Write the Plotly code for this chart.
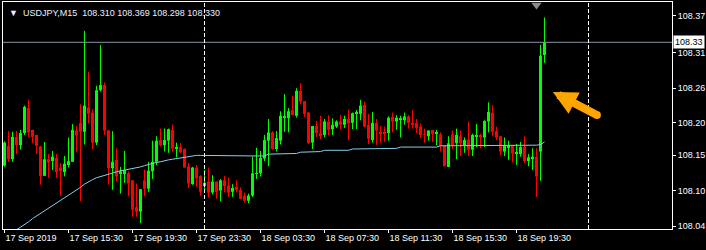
import numpy as np
import pandas as pd
import plotly.graph_objects as go

# ---------------- data (USDJPY, M15) ----------------
open_ = [108.137, 108.168, 108.147, 108.182, 108.169, 108.188, 108.227, 108.193, 108.185, 108.167,
         108.121, 108.147, 108.144, 108.149, 108.134, 108.127, 108.138, 108.143, 108.192, 108.204,
         108.190, 108.228, 108.220, 108.173, 108.255, 108.263, 108.192, 108.133, 108.146, 108.125,
         108.124, 108.125, 108.114, 108.072, 108.065, 108.114, 108.101, 108.128, 108.143, 108.177,
         108.169, 108.176, 108.193, 108.164, 108.166, 108.163, 108.136, 108.108, 108.134, 108.121,
         108.105, 108.112, 108.095, 108.112, 108.098, 108.114, 108.106, 108.096, 108.104, 108.099,
         108.090, 108.082, 108.090, 108.124, 108.125, 108.148, 108.176, 108.189, 108.163, 108.176,
         108.212, 108.211, 108.224, 108.215, 108.254, 108.238, 108.220, 108.173, 108.199, 108.188,
         108.185, 108.206, 108.194, 108.198, 108.206, 108.201, 108.210, 108.204, 108.219, 108.218,
         108.232, 108.201, 108.177, 108.204, 108.190, 108.190, 108.188, 108.213, 108.206, 108.209,
         108.208, 108.214, 108.204, 108.204, 108.198, 108.186, 108.183, 108.193, 108.188, 108.186,
         108.168, 108.135, 108.186, 108.172, 108.183, 108.169, 108.178, 108.162, 108.183, 108.185,
         108.181, 108.206, 108.220, 108.191, 108.183, 108.159, 108.166, 108.169, 108.156, 108.155,
         108.166, 108.144, 108.147, 108.151, 108.159, 108.310]
high = [108.175, 108.191, 108.190, 108.191, 108.193, 108.231, 108.240, 108.193, 108.185, 108.168,
        108.174, 108.155, 108.160, 108.155, 108.141, 108.152, 108.181, 108.202, 108.199, 108.233,
        108.348, 108.284, 108.225, 108.262, 108.326, 108.267, 108.193, 108.191, 108.164, 108.135,
        108.160, 108.128, 108.114, 108.109, 108.100, 108.131, 108.143, 108.176, 108.183, 108.195,
        108.195, 108.195, 108.201, 108.173, 108.172, 108.164, 108.141, 108.135, 108.138, 108.122,
        108.130, 108.134, 108.122, 108.112, 108.116, 108.121, 108.118, 108.108, 108.114, 108.103,
        108.095, 108.093, 108.151, 108.165, 108.160, 108.185, 108.210, 108.191, 108.191, 108.222,
        108.249, 108.227, 108.246, 108.258, 108.266, 108.238, 108.221, 108.199, 108.207, 108.215,
        108.210, 108.216, 108.211, 108.208, 108.216, 108.215, 108.225, 108.220, 108.224, 108.240,
        108.237, 108.218, 108.221, 108.210, 108.199, 108.198, 108.214, 108.220, 108.216, 108.215,
        108.220, 108.216, 108.224, 108.210, 108.203, 108.195, 108.192, 108.193, 108.193, 108.189,
        108.169, 108.183, 108.192, 108.195, 108.192, 108.181, 108.206, 108.187, 108.202, 108.187,
        108.208, 108.236, 108.232, 108.198, 108.183, 108.181, 108.176, 108.169, 108.171, 108.174,
        108.183, 108.155, 108.164, 108.164, 108.326, 108.369]
low = [108.135, 108.143, 108.143, 108.155, 108.162, 108.185, 108.182, 108.172, 108.155, 108.107,
       108.121, 108.118, 108.130, 108.118, 108.090, 108.120, 108.134, 108.143, 108.159, 108.081,
       108.170, 108.203, 108.163, 108.169, 108.253, 108.185, 108.107, 108.099, 108.112, 108.093,
       108.110, 108.089, 108.057, 108.057, 108.047, 108.089, 108.096, 108.116, 108.138, 108.167,
       108.159, 108.157, 108.159, 108.150, 108.156, 108.134, 108.102, 108.107, 108.104, 108.090,
       108.099, 108.087, 108.092, 108.085, 108.081, 108.095, 108.088, 108.088, 108.095, 108.085,
       108.079, 108.078, 108.088, 108.116, 108.120, 108.144, 108.136, 108.162, 108.159, 108.170,
       108.190, 108.189, 108.216, 108.212, 108.233, 108.213, 108.171, 108.163, 108.182, 108.178,
       108.181, 108.184, 108.185, 108.196, 108.194, 108.196, 108.177, 108.194, 108.194, 108.208,
       108.197, 108.171, 108.173, 108.169, 108.173, 108.174, 108.176, 108.189, 108.193, 108.181,
       108.201, 108.195, 108.195, 108.188, 108.180, 108.173, 108.176, 108.174, 108.169, 108.159,
       108.136, 108.135, 108.163, 108.147, 108.152, 108.157, 108.152, 108.152, 108.166, 108.164,
       108.166, 108.189, 108.183, 108.177, 108.153, 108.152, 108.146, 108.142, 108.138, 108.151,
       108.141, 108.136, 108.130, 108.088, 108.113, 108.298]
close = [108.173, 108.147, 108.182, 108.169, 108.188, 108.229, 108.189, 108.182, 108.168, 108.121,
         108.147, 108.142, 108.151, 108.127, 108.128, 108.140, 108.144, 108.193, 108.184, 108.190,
         108.231, 108.218, 108.173, 108.255, 108.263, 108.192, 108.133, 108.143, 108.120, 108.128,
         108.130, 108.109, 108.068, 108.065, 108.100, 108.101, 108.129, 108.143, 108.176, 108.169,
         108.177, 108.194, 108.164, 108.165, 108.158, 108.134, 108.109, 108.134, 108.117, 108.096,
         108.110, 108.095, 108.112, 108.096, 108.114, 108.105, 108.095, 108.102, 108.099, 108.085,
         108.082, 108.090, 108.125, 108.125, 108.149, 108.177, 108.189, 108.163, 108.180, 108.215,
         108.213, 108.222, 108.216, 108.254, 108.237, 108.218, 108.172, 108.199, 108.188, 108.183,
         108.206, 108.193, 108.201, 108.206, 108.201, 108.210, 108.203, 108.219, 108.220, 108.231,
         108.198, 108.179, 108.204, 108.192, 108.188, 108.188, 108.212, 108.206, 108.212, 108.210,
         108.214, 108.204, 108.202, 108.196, 108.185, 108.185, 108.192, 108.186, 108.189, 108.168,
         108.136, 108.172, 108.169, 108.185, 108.172, 108.177, 108.162, 108.185, 108.184, 108.181,
         108.207, 108.221, 108.190, 108.181, 108.159, 108.169, 108.168, 108.156, 108.157, 108.166,
         108.144, 108.150, 108.151, 108.120, 108.309, 108.330]
moving_avg = [108.024, 108.028, 108.033, 108.037, 108.041, 108.045, 108.049, 108.054, 108.058, 108.062,
              108.066, 108.070, 108.074, 108.079, 108.083, 108.087, 108.091, 108.095, 108.099, 108.103,
              108.108, 108.112, 108.115, 108.118, 108.120, 108.122, 108.124, 108.126, 108.128, 108.129,
              108.130, 108.131, 108.133, 108.134, 108.135, 108.137, 108.139, 108.141, 108.142, 108.143,
              108.145, 108.146, 108.147, 108.148, 108.150, 108.150, 108.152, 108.152, 108.153, 108.153,
              108.153, 108.153, 108.152, 108.152, 108.152, 108.152, 108.152, 108.152, 108.152, 108.152,
              108.152, 108.152, 108.152, 108.152, 108.152, 108.152, 108.155, 108.155, 108.155, 108.156,
              108.156, 108.156, 108.155, 108.156, 108.158, 108.158, 108.159, 108.159, 108.159, 108.159,
              108.161, 108.161, 108.161, 108.161, 108.161, 108.161, 108.161, 108.163, 108.163, 108.163,
              108.163, 108.163, 108.163, 108.163, 108.163, 108.163, 108.163, 108.164, 108.164, 108.166,
              108.166, 108.166, 108.166, 108.166, 108.166, 108.166, 108.166, 108.166, 108.166, 108.168,
              108.168, 108.168, 108.168, 108.168, 108.168, 108.169, 108.169, 108.169, 108.169, 108.169,
              108.169, 108.169, 108.169, 108.168, 108.168, 108.168, 108.168, 108.168, 108.168, 108.168,
              108.168, 108.169, 108.169, 108.169, 108.170, 108.174]

first_bar_time = "2019-09-17 11:30"
tick_times = ["2019-09-17 11:30", "2019-09-17 15:30", "2019-09-17 19:30", "2019-09-17 23:30",
              "2019-09-18 03:30", "2019-09-18 07:30", "2019-09-18 11:30", "2019-09-18 15:30",
              "2019-09-18 19:30"]
tick_labels = ["17 Sep 2019", "17 Sep 15:30", "17 Sep 19:30", "17 Sep 23:30", "18 Sep 03:30",
               "18 Sep 07:30", "18 Sep 11:30", "18 Sep 15:30", "18 Sep 19:30"]
day_separators = ["2019-09-18 00:00", "2019-09-19 00:00"]
price_tick_vals = [108.3716, 108.3140, 108.2580, 108.2045, 108.1532, 108.0978, 108.0425]
price_tick_labels = ["108.37", "108.31", "108.26", "108.20", "108.15", "108.10", "108.04"]
header = "USDJPY,M15  108.310 108.369 108.298 108.330"
symbol_label = "108.33"

# ---------------- build ----------------
step = pd.Timedelta("15min")
t0 = pd.Timestamp(first_bar_time)
n = len(close)
idx = np.arange(n)
o = np.array(open_); c = np.array(close); h = np.array(high); l = np.array(low)

def bar_index(t):
    return (pd.Timestamp(t) - t0) / step

tickvals = [bar_index(t) for t in tick_times]
sep_idx = [bar_index(t) for t in day_separators]

UP, DN = "#00FF00", "#FF0000"
up = c >= o
min_body = 0.0012
base = np.minimum(o, c)
height = np.maximum(np.abs(c - o), min_body)
colors = [UP if u else DN for u in up]

fig = go.Figure()
fig.add_trace(go.Bar(x=idx, y=height, base=base, width=0.75,
                     marker=dict(color=colors, line=dict(width=0)),
                     hoverinfo="skip", showlegend=False))
for mask, col in ((up, UP), (~up, DN)):
    wx, wy = [], []
    for i in idx[mask]:
        wx += [i, i, None]
        wy += [h[i], l[i], None]
    fig.add_trace(go.Scatter(x=wx, y=wy, mode="lines", line=dict(color=col, width=1),
                             hoverinfo="skip", showlegend=False))
fig.add_trace(go.Scatter(x=idx, y=moving_avg, mode="lines",
                         line=dict(color="#87CEEB", width=1), hoverinfo="skip", showlegend=False))

# layout geometry: plot box from px 3..672 (x) and 2..229 (y), 4 px per bar
W, H = 706, 250
ml, mr, mt, mb = 3, 34, 2, 21
px_per_bar = 4.0
x0 = -0.375
x1 = x0 + (W - ml - mr) / px_per_bar
y_top, y_bot = 108.3931, 108.0378

font = "Liberation Sans, Arial, sans-serif"

# current price line
fig.add_shape(type="line", xref="paper", x0=0, x1=1, yref="y", y0=c[-1], y1=c[-1],
              line=dict(color="#8795A5", width=1))
# day separators
for s in sep_idx:
    fig.add_shape(type="line", xref="x", x0=s, x1=s, yref="paper", y0=0, y1=1,
                  line=dict(color="white", width=1, dash="4px,2px"))
# shift marker
fig.add_trace(go.Scatter(x=[n - 3], y=[y_top - 0.0045], mode="markers",
                         marker=dict(symbol="triangle-down", size=9, color="#8A8A8A"),
                         cliponaxis=False, hoverinfo="skip", showlegend=False))

# orange arrow (tip position and tail offset, in bars / price / pixels)
arrow_tip = (137.1, 108.2522)
arrow_tail_offset = (44, 23)
ORANGE = "#FFA500"
fig.add_trace(go.Scatter(x=[arrow_tip[0] + arrow_tail_offset[0] / px_per_bar],
                         y=[arrow_tip[1] - arrow_tail_offset[1] * (y_top - y_bot) / (H - mt - mb)],
                         mode="markers", marker=dict(symbol="circle", size=8, color=ORANGE),
                         cliponaxis=False, hoverinfo="skip", showlegend=False))

annotations = [
    dict(xref="paper", yref="paper", x=0, y=1, xanchor="left", yanchor="top",
         xshift=4, yshift=-4, showarrow=False, text="▼  " + header,
         font=dict(family=font, size=9, color="#E8F0FF")),
    dict(xref="paper", yref="y", x=1, y=c[-1], xanchor="left", yanchor="middle",
         xshift=1, showarrow=False, text=symbol_label, bgcolor="white", borderpad=1,
         font=dict(family=font, size=9, color="black")),
    dict(xref="x", yref="y", x=arrow_tip[0], y=arrow_tip[1],
         ax=arrow_tail_offset[0], ay=arrow_tail_offset[1], showarrow=True,
         arrowhead=2, arrowsize=0.6, arrowwidth=8, arrowcolor=ORANGE, standoff=0, text=""),
]

fig.update_layout(
    width=W, height=H, margin=dict(l=ml, r=mr, t=mt, b=mb, pad=0),
    paper_bgcolor="black", plot_bgcolor="black",
    showlegend=False, barmode="overlay", annotations=annotations,
    xaxis=dict(range=[x0, x1], showgrid=False, zeroline=False, showline=True,
               linecolor="white", linewidth=1, mirror=True, ticks="outside", ticklen=3,
               tickcolor="white", tickvals=tickvals, ticktext=tick_labels,
               ticklabelposition="outside right",
               tickfont=dict(family=font, size=9, color="white")),
    yaxis=dict(range=[y_bot, y_top], side="right", showgrid=False, zeroline=False,
               showline=True, linecolor="white", linewidth=1, mirror=True,
               ticks="outside", ticklen=3, tickcolor="white",
               tickvals=price_tick_vals, ticktext=price_tick_labels,
               tickfont=dict(family=font, size=9, color="white")),
)

fig.write_html("out.html")
